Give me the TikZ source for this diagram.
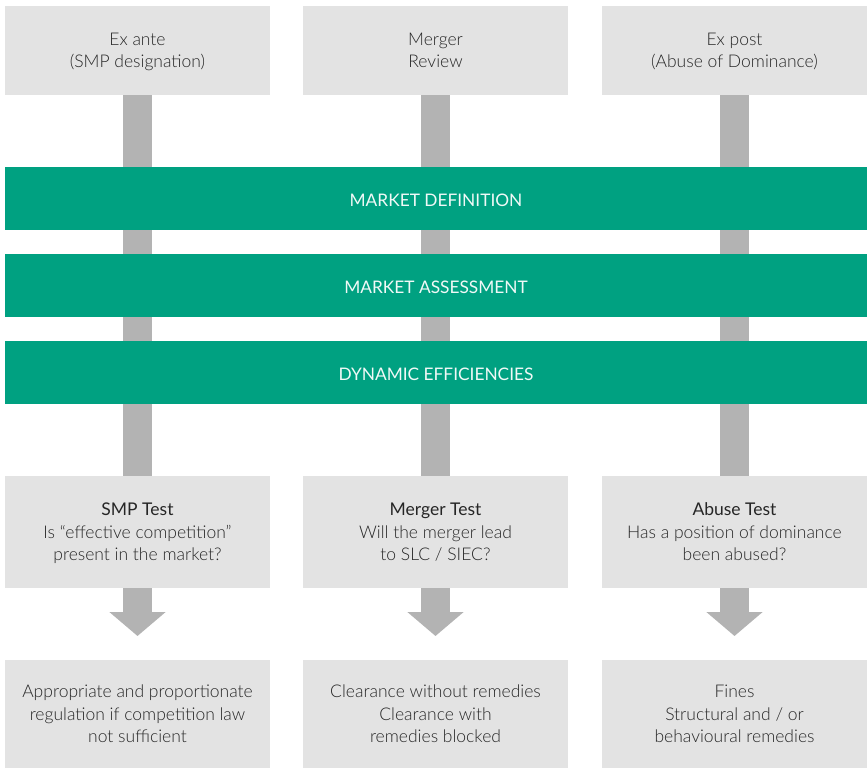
\documentclass[tikz,border=0pt]{standalone}
\usepackage{fontspec}
\setmainfont{Lato}[UprightFont={* Light},BoldFont={* Regular}]
\usetikzlibrary{arrows.meta}
\definecolor{boxgray}{HTML}{E3E3E3}
\definecolor{bargray}{HTML}{B3B3B3}
\definecolor{bandgreen}{HTML}{00A181}
\definecolor{txt}{HTML}{262626}
\tikzset{
  lbox/.style={fill=boxgray, draw=none, minimum width=265pt, align=center, text=txt, font=\fontsize{17.5}{22.5}\selectfont, inner sep=0pt, text depth=0pt},
  band/.style={fill=bandgreen, draw=none, minimum width=862pt, minimum height=63pt, text=white!94!bandgreen, font=\fontsize{17.3}{22}\selectfont\bfseries, inner sep=0pt, text height=16pt, text depth=0pt},
  bar/.style={draw=bargray, line width=29pt},
  arr/.style={draw=bargray, line width=29pt, -{Triangle[width=55pt,length=24pt]}}
}
\begin{document}
\begin{tikzpicture}[x=1pt,y=-1pt]
\useasboundingbox (0,0) rectangle (868,768);
% top boxes
\node[lbox, minimum height=89pt] (t1) at (137.5,50.5) {Ex ante\\(SMP designation)};
\node[lbox, minimum height=89pt] (t2) at (435.5,50.5) {Merger\\Review};
\node[lbox, minimum height=89pt] (t3) at (734.5,50.5) {Ex post\\(Abuse of Dominance)};
% test boxes
\node[lbox, minimum height=112pt] (m1) at (137.5,532) {\textbf{SMP Test}\\Is “effective competition”\\present in the market?};
\node[lbox, minimum height=112pt] (m2) at (435.5,532) {\textbf{Merger Test}\\Will the merger lead\\to SLC / SIEC?};
\node[lbox, minimum height=112pt] (m3) at (734.5,532) {\textbf{Abuse Test}\\Has a position of dominance\\been abused?};
% bottom boxes
\node[lbox, minimum height=108pt] (r1) at (137.5,714) {Appropriate and proportionate\\regulation if competition law\\not sufficient};
\node[lbox, minimum height=108pt] (r2) at (435.5,714) {Clearance without remedies\\Clearance with\\remedies blocked};
\node[lbox, minimum height=108pt] (r3) at (734.5,714) {Fines\\Structural and / or\\behavioural remedies};
% arrow tips
\coordinate (a1) at (137.5,636);
\coordinate (a2) at (435.5,636);
\coordinate (a3) at (734.5,636);
% bars
\draw[bar] (t1.south) -- (m1.north);
\draw[bar] (t2.south) -- (m2.north);
\draw[bar] (t3.south) -- (m3.north);
\draw[arr] (m1.south) -- (a1);
\draw[arr] (m2.south) -- (a2);
\draw[arr] (m3.south) -- (a3);
% bands
\node[band] (b1) at (436,198.5) {MARKET DEFINITION};
\node[band] (b2) at (436,285.5) {MARKET ASSESSMENT};
\node[band] (b3) at (436,372.5) {DYNAMIC EFFICIENCIES};
\end{tikzpicture}
\end{document}
